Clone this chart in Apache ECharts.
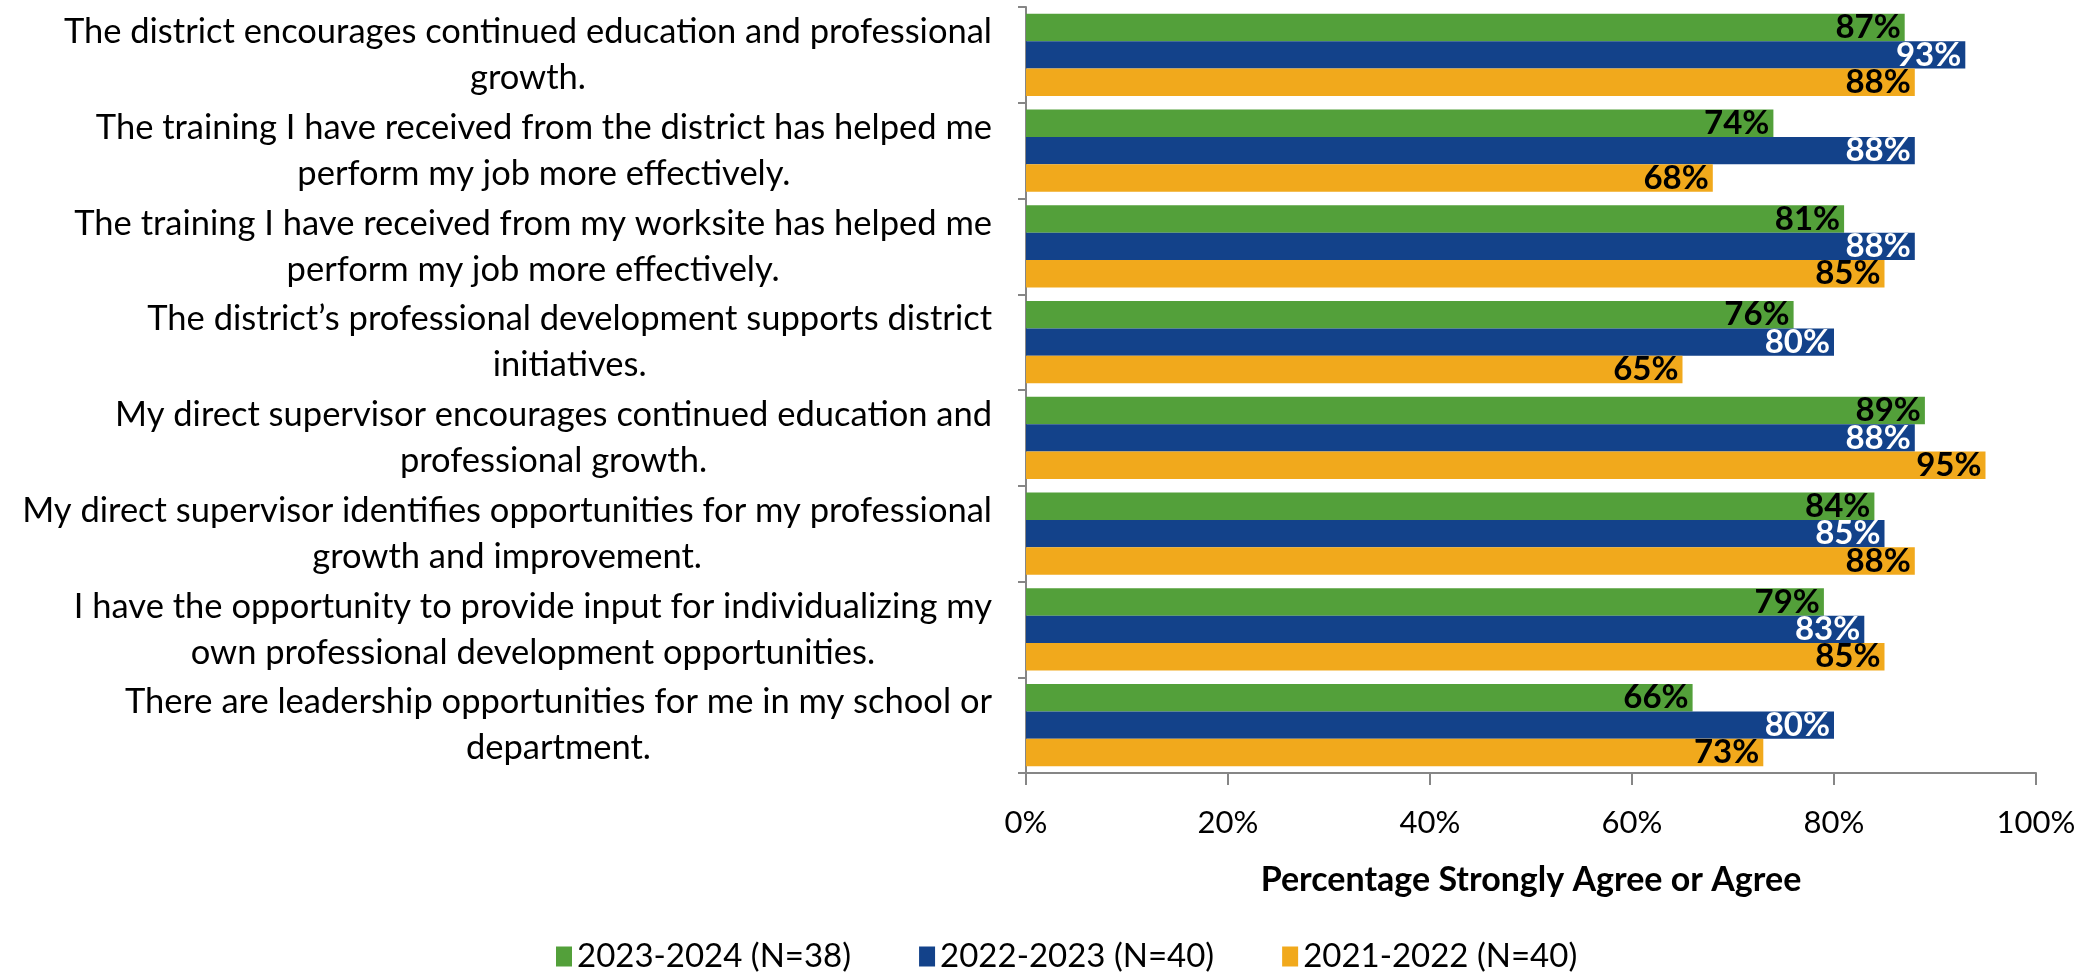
<!DOCTYPE html>
<html>
<head>
<meta charset="utf-8">
<script src="https://cdn.jsdelivr.net/npm/echarts@6/dist/echarts.min.js"></script>
<style>
  html, body { margin: 0; padding: 0; background: #fff; }
  #chart { width: 2097px; height: 980px; }
</style>
</head>
<body>
<div id="chart"></div>
<script>
let categories = [
    'The district encourages continued education and professional\ngrowth.',
    'The training I have received from the district has helped me\nperform my job more effectively.',
    'The training I have received from my worksite has helped me\nperform my job more effectively.',
    'The district\u2019s professional development supports district\ninitiatives.',
    'My direct supervisor encourages continued education and\nprofessional growth.',
    'My direct supervisor identifies opportunities for my professional\ngrowth and improvement.',
    'I have the opportunity to provide input for individualizing my\nown professional development opportunities.',
    'There are leadership opportunities for me in my school or\ndepartment.'
];

let seriesNames = ['2023-2024 (N=38)', '2022-2023 (N=40)', '2021-2022 (N=40)'];
let values2324 = [87, 74, 81, 76, 89, 84, 79, 66];
let values2223 = [93, 88, 88, 80, 88, 85, 83, 80];
let values2122 = [88, 68, 85, 65, 95, 88, 85, 73];

let colors = ['#53a03a', '#13428a', '#f1a91c'];
let labelColors = ['#000', '#fff', '#000'];

let font = 'Lato';

let chart = echarts.init(document.getElementById('chart'));

function makeSeries(i, data) {
    return {
        name: seriesNames[i],
        type: 'bar',
        data: data,
        barGap: '0%',
        barCategoryGap: '14%',
        itemStyle: { color: colors[i] },
        label: {
            show: true,
            position: 'insideRight',
            distance: 4,
            formatter: '{c}%',
            color: labelColors[i],
            fontFamily: font,
            fontWeight: 'bold',
            fontSize: 33
        }
    };
}

let option = {
    animation: false,
    grid: { left: 1026, right: 61, top: 7, bottom: 207 },
    legend: {
        bottom: 2,
        left: 551,
        itemWidth: 16,
        itemHeight: 20,
        itemGap: 68,
        icon: 'rect',
        textStyle: { fontFamily: font, fontSize: 33, color: '#000' },
        data: seriesNames
    },
    xAxis: {
        type: 'value',
        min: 0,
        max: 100,
        interval: 20,
        name: 'Percentage Strongly Agree or Agree',
        nameLocation: 'middle',
        nameGap: 90,
        nameTextStyle: { fontFamily: font, fontSize: 34, fontWeight: 'bold', color: '#000' },
        axisLine: { show: true, lineStyle: { color: '#868686', width: 2 } },
        axisTick: { show: true, length: 12, lineStyle: { color: '#868686', width: 2 } },
        axisLabel: { formatter: '{value}%', margin: 34, fontFamily: font, fontSize: 31, color: '#000' },
        splitLine: { show: false }
    },
    yAxis: {
        type: 'category',
        inverse: true,
        data: categories,
        axisLine: { show: true, lineStyle: { color: '#868686', width: 2 } },
        axisTick: { show: true, length: 8, lineStyle: { color: '#868686', width: 2 } },
        axisLabel: {
            margin: 34,
            align: 'right',
            formatter: function (v) {
                return v.split('\n').map(function (s) { return '{c|' + s + '}'; }).join('\n');
            },
            rich: {
                c: { align: 'center', fontFamily: font, fontSize: 34.5, lineHeight: 46, color: '#000' }
            }
        }
    },
    series: [
        makeSeries(0, values2324),
        makeSeries(1, values2223),
        makeSeries(2, values2122)
    ]
};

chart.setOption(option);
</script>
</body>
</html>
